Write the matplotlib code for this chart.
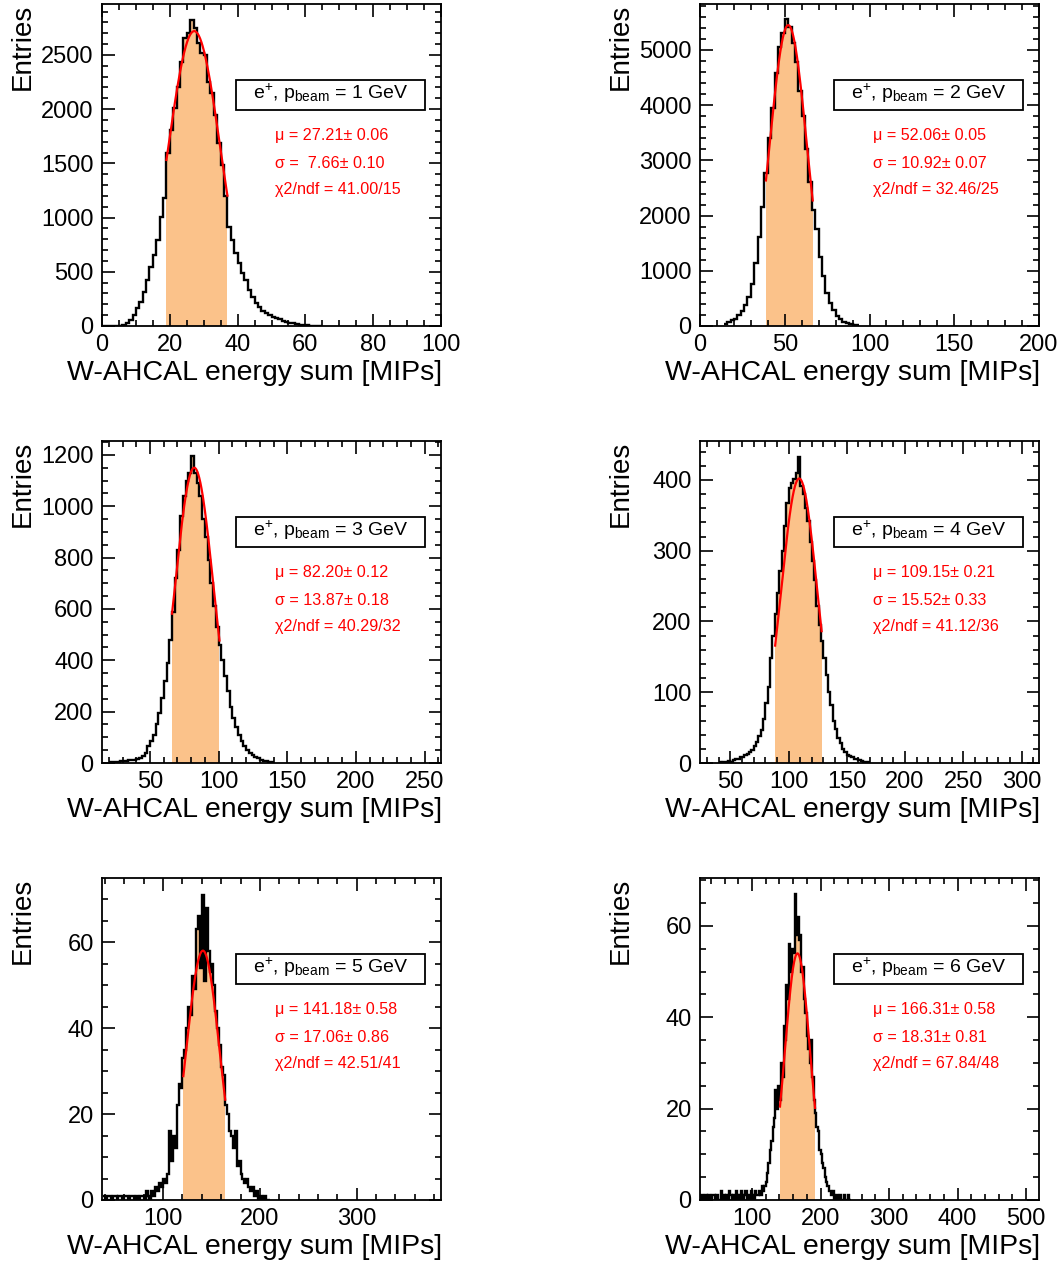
import numpy as np
import matplotlib
matplotlib.use('Agg')
import matplotlib.pyplot as plt
from matplotlib.ticker import MultipleLocator, AutoMinorLocator
from matplotlib.patches import Rectangle

plt.rcParams['font.family'] = ['Liberation Sans', 'DejaVu Sans']
plt.rcParams['mathtext.fontset'] = 'custom'
plt.rcParams['mathtext.rm'] = 'Liberation Sans'
plt.rcParams['mathtext.it'] = 'Liberation Sans:italic'

# beam energies and fit results
energies = [1, 2, 3, 4, 5, 6]
mu = [27.21, 52.06, 82.20, 109.15, 141.18, 166.31]
mu_err = [0.06, 0.05, 0.12, 0.21, 0.58, 0.58]
sigma = [7.66, 10.92, 13.87, 15.52, 17.06, 18.31]
sigma_err = [0.10, 0.07, 0.18, 0.33, 0.86, 0.81]
chi2 = [41.00, 32.46, 40.29, 41.12, 42.51, 67.84]
ndf = [15, 25, 32, 36, 41, 48]
fit_peak = [2720, 5450, 1150, 402, 58, 54]
fit_lo = [19, 38.9, 66, 88.5, 121, 140.8]
fit_hi = [37, 66.5, 100.6, 128.4, 164.2, 192]

# histogram contents
hist_lo = [0, 14, 20, 40, 38, 24]
bin_width = [1, 2, 2, 2, 2, 2]

counts_1 = [0, 0, 0, 0, 0, 0, 10, 30, 55, 101,
            163, 225, 317, 424, 547, 655, 793, 1008, 1178, 1593,
            1808, 2008, 2208, 2438, 2654, 2700, 2823, 2746, 2608, 2515,
            2500, 2254, 2146, 1946, 1685, 1485, 1200, 916, 793, 670,
            578, 486, 424, 332, 270, 209, 178, 140, 117, 101,
            85, 71, 60, 50, 40, 30, 24, 18, 12, 8,
            5, 3, 1, 0, 0]
counts_2 = [40, 70, 100, 135, 200, 280, 380, 520, 760, 1150,
            1620, 2150, 2780, 3400, 3950, 4580, 5050, 5300, 5556, 5420,
            5130, 4780, 4250, 3800, 3200, 2600, 2100, 1750, 1250, 900,
            600, 420, 290, 190, 120, 80, 55, 35, 20, 10]
counts_3 = [2, 3, 4, 5, 6, 8, 9, 10, 11, 12,
            15, 20, 28, 40, 65, 85, 110, 150, 195, 255,
            320, 390, 480, 590, 720, 830, 960, 1040, 1100, 1130,
            1195, 1130, 1090, 1040, 950, 880, 790, 700, 610, 530,
            460, 400, 340, 280, 220, 175, 140, 110, 85, 65,
            52, 40, 32, 25, 18, 13, 9, 6, 4, 2]
counts_4 = [1, 0, 2, 1, 3, 2, 4, 5, 6, 8,
            9, 11, 13, 15, 19, 24, 30, 38, 47, 62,
            85, 108, 148, 180, 210, 240, 272, 300, 335, 368,
            388, 396, 402, 410, 433, 392, 380, 360, 342, 312,
            285, 258, 222, 195, 172, 148, 125, 100, 82, 60,
            48, 36, 28, 20, 16, 12, 10, 8, 6, 5,
            4, 3, 2, 1, 1]
counts_5 = [1, 0, 1, 1, 0, 1, 1, 0, 1, 1,
            0, 1, 1, 0, 1, 1, 0, 1, 0, 1,
            1, 0, 2, 1, 0, 2, 1, 3, 2, 4,
            3, 5, 4, 6, 16, 9, 15, 12, 22, 27,
            26, 33, 35, 40, 45, 43, 52, 49, 63, 66,
            54, 71, 51, 68, 58, 53, 55, 50, 44, 40,
            36, 31, 29, 22, 20, 16, 15, 12, 16, 8,
            9, 6, 5, 4, 5, 3, 2, 3, 1, 2,
            0, 1, 0, 1, 0, 0]
counts_6 = [0, 1, 0, 0, 1, 0, 1, 0, 0, 1,
            1, 0, 1, 0, 0, 2, 0, 1, 0, 1,
            0, 2, 1, 0, 1, 0, 2, 1, 0, 1,
            2, 0, 1, 2, 0, 1, 0, 2, 1, 0,
            2, 1, 1, 2, 1, 3, 2, 3, 4, 6,
            8, 11, 13, 16, 18, 24, 20, 25, 22, 30,
            27, 38, 35, 47, 44, 56, 50, 55, 54, 67,
            58, 62, 57, 58, 50, 51, 44, 41, 36, 33,
            30, 35, 27, 22, 19, 16, 15, 11, 10, 8,
            7, 5, 4, 3, 2, 2, 1, 2, 0, 1,
            1, 0, 1, 0, 0, 1, 0, 0, 1, 0]
counts = [counts_1, counts_2, counts_3, counts_4, counts_5, counts_6]

x_range = [(0, 100), (0, 200), (15, 262), (24, 315), (37, 387), (24, 519)]
y_max = [2970, 5833, 1254, 455, 74.9, 70.5]
x_major = [20, 50, 50, 50, 100, 100]
x_minor = [4, 5, 5, 5, 5, 5]
y_major = [500, 1000, 200, 100, 20, 20]
y_minor = [5, 5, 4, 5, 4, 4]

fig = plt.figure(figsize=(10.62, 12.65), dpi=100)

lefts = [102, 700]
bottoms = [326, 763, 1200]
fill_col = '#fbc28a'

for i in range(6):
    row, col = i // 2, i % 2
    ax = fig.add_axes([lefts[col] / 1062, (1265 - bottoms[row]) / 1265, 339 / 1062, 322 / 1265])

    vals = np.array(counts[i], dtype=float)
    edges = hist_lo[i] + bin_width[i] * np.arange(len(vals) + 1)

    # shaded fit range
    inside = (edges[1:] > fit_lo[i]) & (edges[:-1] < fit_hi[i])
    ax.stairs(np.where(inside, vals, 0), np.clip(edges, fit_lo[i], fit_hi[i]),
              fill=True, color=fill_col, lw=0)

    ax.stairs(vals, edges, color='black', lw=1.7, baseline=None)

    # gaussian fit
    xf = np.linspace(fit_lo[i], fit_hi[i], 200)
    yf = fit_peak[i] * np.exp(-0.5 * ((xf - mu[i]) / sigma[i]) ** 2)
    ax.plot(xf, yf, color='red', lw=1.6)

    ax.set_xlim(*x_range[i])
    ax.set_ylim(0, y_max[i])
    ax.xaxis.set_major_locator(MultipleLocator(x_major[i]))
    ax.xaxis.set_minor_locator(AutoMinorLocator(x_minor[i]))
    ax.yaxis.set_major_locator(MultipleLocator(y_major[i]))
    ax.yaxis.set_minor_locator(AutoMinorLocator(y_minor[i]))
    ax.tick_params(which='both', direction='in', top=True, right=True, width=1.2)
    ax.tick_params(which='major', length=9, labelsize=17, pad=6)
    ax.tick_params(which='minor', length=4.5)
    for s in ax.spines.values():
        s.set_linewidth(1.3)

    ax.set_ylabel('Entries', fontsize=20, loc='top')
    ax.yaxis.set_label_coords(-0.195, 1.0)
    ax.set_xlabel('W-AHCAL energy sum [MIPs]', fontsize=20.5, loc='right')
    ax.xaxis.set_label_coords(1.003, -0.105)

    # label box
    ax.add_patch(Rectangle((0.395, 0.67), 0.557, 0.094, transform=ax.transAxes,
                           fill=False, ec='black', lw=1.3, zorder=5))
    ax.text(0.6735, 0.722, r'e$^{+}$, p$_{\mathrm{beam}}$ = %d GeV' % energies[i],
            transform=ax.transAxes, ha='center', va='center', fontsize=14, zorder=6)

    s_txt = '%5.2f' % sigma[i]
    ax.text(0.51, 0.593, u'\u03bc = %.2f\u00b1 %.2f' % (mu[i], mu_err[i]),
            transform=ax.transAxes, color='red', fontsize=11.6, va='center')
    ax.text(0.51, 0.506, u'\u03c3 = %s\u00b1 %.2f' % (s_txt, sigma_err[i]),
            transform=ax.transAxes, color='red', fontsize=11.6, va='center')
    ax.text(0.51, 0.425, u'\u03c72/ndf = %.2f/%d' % (chi2[i], ndf[i]),
            transform=ax.transAxes, color='red', fontsize=11.6, va='center')

fig.savefig('out.png', dpi=100)
